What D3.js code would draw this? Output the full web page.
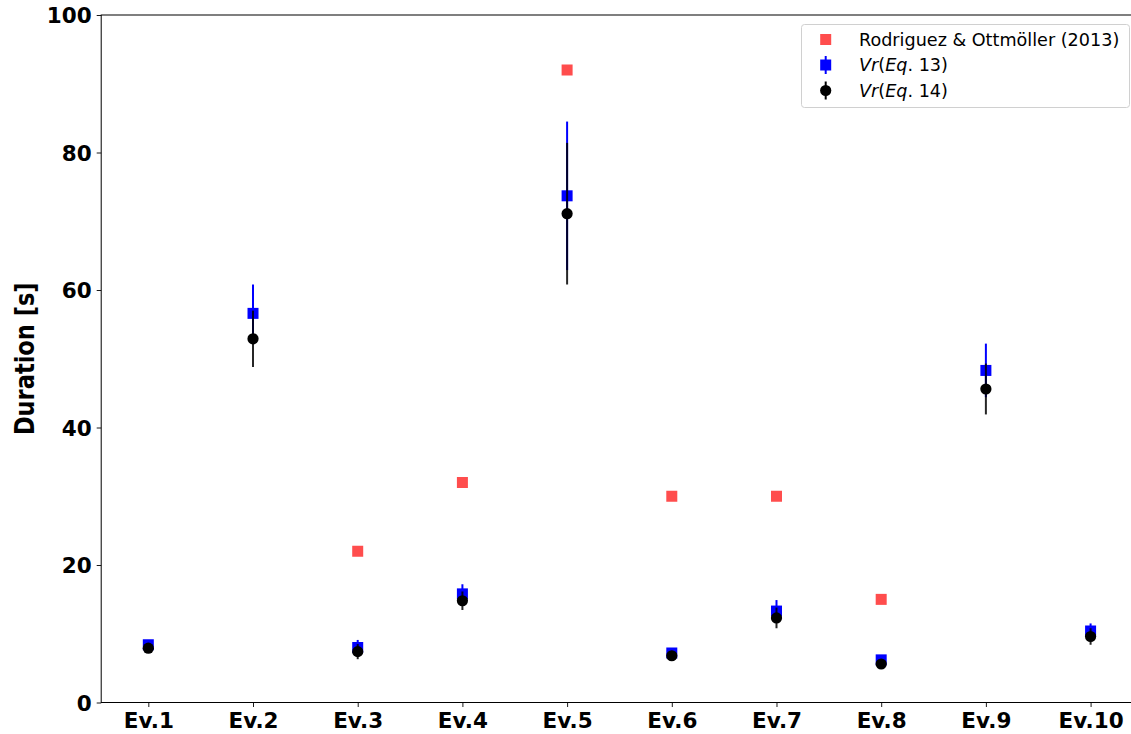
<!DOCTYPE html>
<html>
<head>
<meta charset="utf-8">
<script src="https://cdn.jsdelivr.net/npm/d3@7/dist/d3.min.js"></script>
<style>
  html, body { margin: 0; padding: 0; background: #fff; }
  svg { display: block; font-family: "DejaVu Sans", sans-serif; }
</style>
</head>
<body>
<svg id="chart" width="1131" height="734"></svg>
<script>
// ---- data ----
const categories = ["Ev.1","Ev.2","Ev.3","Ev.4","Ev.5","Ev.6","Ev.7","Ev.8","Ev.9","Ev.10"];
const rodriguez = [null, null, 22, 32, 92, 30, 30, 15, null, null];
const eq13Values = [8.4, 56.6, 8.0, 15.8, 73.7, 7.2, 13.3, 6.2, 48.3, 10.4];
const eq13Errors = [0.6, 4.2, 1.1, 1.4, 10.8, 0.5, 1.6, 0.5, 3.9, 1.1];
const eq14Values = [7.9, 52.9, 7.4, 14.8, 71.1, 6.8, 12.3, 5.6, 45.6, 9.6];
const eq14Errors = [0.5, 4.1, 1.1, 1.35, 10.3, 0.5, 1.5, 0.5, 3.7, 1.2];
const yTicks = [0, 20, 40, 60, 80, 100];

(function () {
// ---- layout ----
const svg = d3.select("#chart");
const pL = 101.2, pR = 1137.7, pT = 15, pB = 702.5;

const x = d3.scaleLinear().domain([-0.45, categories.length - 1 + 0.45]).range([pL, pR]);
const y = d3.scaleLinear().domain([0, 100]).range([pB, pT]);

// axes
const xAxis = d3.axisBottom(x).tickValues(d3.range(categories.length))
  .tickFormat(i => categories[i]).tickSize(4.5).tickPadding(5.5);
const yAxis = d3.axisLeft(y).tickValues(yTicks).tickSize(4.5).tickPadding(5);

const gx = svg.append("g").attr("transform", `translate(0,${pB})`).call(xAxis);
const gy = svg.append("g").attr("transform", `translate(${pL},0)`).call(yAxis);
[gx, gy].forEach(g => {
  g.select(".domain").remove();
  g.selectAll("line").attr("stroke", "#000").attr("stroke-width", 0.9);
  g.selectAll("text").attr("fill", "#000").attr("font-size", 21.5).attr("font-weight", "bold")
    .attr("font-family", "DejaVu Sans");
});
gy.selectAll("text").attr("dy", "0.36em");
gx.selectAll("text").attr("dy", "0.71em");

// frame
svg.append("rect").attr("x", pL).attr("y", pT)
  .attr("width", pR - pL).attr("height", pB - pT)
  .attr("fill", "none").attr("stroke", "#000").attr("stroke-width", 1);

// y label
svg.append("text")
  .attr("transform", `translate(33.5,${(pT + pB) / 2}) scale(1.15,1) rotate(-90)`)
  .attr("text-anchor", "middle")
  .attr("font-size", 22.5).attr("font-weight", "bold").attr("fill", "#000")
  .text("Duration [s]");

const plot = svg.append("g");
const sq = 11;

// Rodriguez squares
plot.selectAll(".rod").data(rodriguez.map((v, i) => ({v, i})).filter(d => d.v != null))
  .enter().append("rect")
  .attr("x", d => x(d.i) - sq / 2).attr("y", d => y(d.v) - sq / 2)
  .attr("width", sq).attr("height", sq).attr("fill", "#ff4d4d");

// Eq.13 error bars and squares
const eq13 = eq13Values.map((v, i) => ({v, e: eq13Errors[i], i}));
plot.selectAll(".e13").data(eq13).enter().append("line")
  .attr("x1", d => x(d.i)).attr("x2", d => x(d.i))
  .attr("y1", d => y(d.v - d.e)).attr("y2", d => y(d.v + d.e))
  .attr("stroke", "#0000ff").attr("stroke-width", 2);
plot.selectAll(".m13").data(eq13).enter().append("rect")
  .attr("x", d => x(d.i) - sq / 2).attr("y", d => y(d.v) - sq / 2)
  .attr("width", sq).attr("height", sq).attr("fill", "#0000ff");

// Eq.14 error bars and circles
const eq14 = eq14Values.map((v, i) => ({v, e: eq14Errors[i], i}));
plot.selectAll(".e14").data(eq14).enter().append("line")
  .attr("x1", d => x(d.i)).attr("x2", d => x(d.i))
  .attr("y1", d => y(d.v - d.e)).attr("y2", d => y(d.v + d.e))
  .attr("stroke", "#000").attr("stroke-width", 2).attr("stroke-opacity", 0.85);
plot.selectAll(".m14").data(eq14).enter().append("circle")
  .attr("cx", d => x(d.i)).attr("cy", d => y(d.v)).attr("r", 5.6).attr("fill", "#000");

// legend
const lg = svg.append("g");
lg.append("rect").attr("x", 801.5).attr("y", 24.5).attr("width", 328).attr("height", 83)
  .attr("rx", 3).attr("fill", "#fff").attr("fill-opacity", 0.8)
  .attr("stroke", "#d0d0d0").attr("stroke-width", 1);
const mx = 825.7, tx = 859, rows = [39.5, 65, 90.5];
lg.append("rect").attr("x", mx - 5.5).attr("y", rows[0] - 5.5).attr("width", 11).attr("height", 11).attr("fill", "#ff4d4d");
lg.append("line").attr("x1", mx).attr("x2", mx).attr("y1", rows[1] - 9).attr("y2", rows[1] + 9)
  .attr("stroke", "#0000ff").attr("stroke-width", 2);
lg.append("rect").attr("x", mx - 5.5).attr("y", rows[1] - 5.5).attr("width", 11).attr("height", 11).attr("fill", "#0000ff");
lg.append("line").attr("x1", mx).attr("x2", mx).attr("y1", rows[2] - 9).attr("y2", rows[2] + 9)
  .attr("stroke", "#000").attr("stroke-width", 2);
lg.append("circle").attr("cx", mx).attr("cy", rows[2]).attr("r", 5.6).attr("fill", "#000");

const fs = 17.6;
lg.append("text").attr("x", tx).attr("y", rows[0]).attr("dy", "0.36em")
  .attr("font-size", fs).attr("fill", "#000").text("Rodriguez & Ottmöller (2013)");
[["13", rows[1]], ["14", rows[2]]].forEach(([n, yy]) => {
  const t = lg.append("text").attr("x", tx).attr("y", yy).attr("dy", "0.36em")
    .attr("font-size", fs).attr("fill", "#000");
  t.append("tspan").attr("font-style", "italic").text("Vr");
  t.append("tspan").text("(");
  t.append("tspan").attr("font-style", "italic").text("Eq");
  t.append("tspan").text(". " + n + ")");
});
})();
</script>
</body>
</html>
